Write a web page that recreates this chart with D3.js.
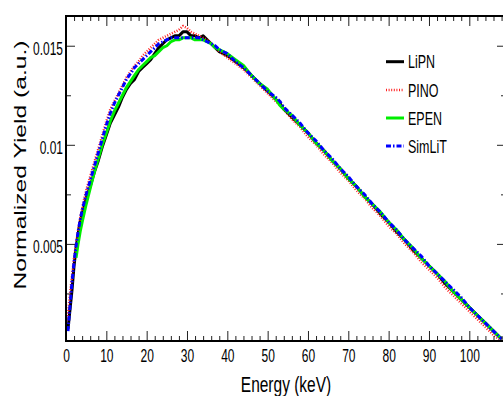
<!DOCTYPE html>
<html>
<head>
<meta charset="utf-8">
<script src="https://cdn.jsdelivr.net/npm/d3@7"></script>
<style>
  html, body { margin: 0; padding: 0; background: #fff; }
  svg { display: block; }
  text { font-family: "Liberation Sans", Arial, Helvetica, sans-serif; fill: #000; }
</style>
</head>
<body>
<svg id="chart" width="503" height="396"></svg>
<script>
// ---- data ----
const energy = [0.2,0.5,1,1.5,2,2.5,3,3.5,4,5,6,7,8,9,10,11,12,13,14,15,16,17,18,19,20,21,22,23,24,25,26,27,28,29,30,31,32,33,34,35,36,37,38,40,42,44,46,48,50,52,53,54,56,58,60,62,64,66,68,70,72,74,76,78,80,82,84,86,88,90,92,94,96,98,100,102,104,106,108];

const lipn = [null,0.00072,0.0017,0.0027,0.0039,0.0048,0.0055,0.0061,0.0065,0.0073,0.0079,0.0086,0.0092,0.0099,0.0105,0.0111,0.0115,0.0119,0.0124,0.0128,0.0131,0.0133,0.0137,0.0139,0.0141,0.0143,0.0146,0.0149,0.0151,0.0153,0.0154,0.0155,0.0155,0.0157,0.0157,0.0155,0.0155,0.0154,0.0155,0.0153,0.0151,0.0149,0.0147,0.0145,0.0142,0.0139,0.0135,0.0131,0.0127,0.0123,0.0121,0.0118,0.0114,0.0110,0.0106,0.0101,0.0097,0.0092,0.0088,0.0083,0.0079,0.0074,0.0070,0.0065,0.0061,0.0056,0.0052,0.0047,0.0043,0.0039,0.0035,0.0030,0.0026,0.0022,0.0018,0.0014,0.0010,0.0006,0.0002];

const pino = [0.0011,0.0015,0.0025,0.0034,0.0043,0.0050,0.0057,0.0063,0.0068,0.0077,0.0084,0.0091,0.0098,0.0105,0.0112,0.0118,0.0122,0.0126,0.0130,0.0134,0.0137,0.0140,0.0142,0.0145,0.0147,0.0149,0.0151,0.0153,0.0154,0.0155,0.0156,0.0157,0.0158,0.0160,0.0159,0.0157,0.0156,0.0155,0.0154,0.0153,0.0151,0.0149,0.0147,0.0144,0.0141,0.0138,0.0134,0.0130,0.0126,0.0122,0.0120,0.0118,0.0113,0.0109,0.0104,0.0100,0.0095,0.0091,0.0086,0.0082,0.0077,0.0073,0.0068,0.0064,0.0059,0.0055,0.0050,0.0046,0.0041,0.0037,0.0033,0.0028,0.0024,0.0020,0.0016,0.0012,0.0008,0.0004,0.0001];

const epen = [null,null,null,null,null,0.0043,0.0050,0.0056,0.0061,0.0070,0.0078,0.0086,0.0093,0.0100,0.0106,0.0112,0.0117,0.0121,0.0125,0.0129,0.0132,0.0135,0.0138,0.0140,0.0142,0.0144,0.0145,0.0147,0.0149,0.0150,0.0152,0.0153,0.0153,0.0154,0.0154,0.0154,0.0153,0.0153,0.0153,0.0152,0.0151,0.0149,0.0148,0.0146,0.0143,0.0140,0.0135,0.0131,0.0128,0.0123,0.0120,0.0118,0.0115,0.0110,0.0106,0.0101,0.0097,0.0092,0.0088,0.0083,0.0079,0.0074,0.0070,0.0066,0.0061,0.0057,0.0052,0.0048,0.0043,0.0039,0.0035,0.0031,0.0026,0.0022,0.0018,0.0014,0.0010,0.0006,0.0002];

const simlit = [null,0.0006,0.0019,0.0031,0.0041,0.0049,0.0056,0.0062,0.0067,0.0075,0.0082,0.0089,0.0096,0.0103,0.0110,0.0116,0.0121,0.0125,0.0129,0.0133,0.0136,0.0139,0.0141,0.0143,0.0145,0.0147,0.0149,0.0151,0.0152,0.0153,0.0154,0.0154,0.0154,0.0154,0.0154,0.0154,0.0154,0.0154,0.0153,0.0152,0.0151,0.0150,0.0148,0.0146,0.0142,0.0139,0.0135,0.0131,0.0127,0.0124,0.0122,0.0119,0.0115,0.0111,0.0106,0.0102,0.0097,0.0093,0.0088,0.0084,0.0079,0.0075,0.0070,0.0066,0.0061,0.0057,0.0052,0.0048,0.0044,0.0039,0.0035,0.0031,0.0027,0.0023,0.0018,0.0014,0.0010,0.0006,0.0002];

const seriesNames = ["LiPN", "PINO", "EPEN", "SimLiT"];
const seriesValues = [lipn, pino, epen, simlit];

const xMajorTicks = [0,10,20,30,40,50,60,70,80,90,100];
const xTickLabels = ["0","10","20","30","40","50","60","70","80","90","100"];
const yMajorTicks = [0.005, 0.01, 0.015];
const yTickLabels = ["0.005", "0.01", "0.015"];
const yMinorTicks = [0.0025, 0.0075, 0.0125];
const xTitle = "Energy (keV)";
const yTitle = "Normalized Yield (a.u.)";

// ---- styles ----
const styles = {
  LiPN:   { color: "#000000", width: 3,   dash: null },
  PINO:   { color: "#ff2020", width: 2.5, dash: "1,1.6" },
  EPEN:   { color: "#00ee00", width: 3,   dash: null },
  SimLiT: { color: "#0000ff", width: 3,   dash: "5,2,1.5,2" }
};

const L = 66, R = 506, T = 16, B = 341;
const svg = d3.select("#chart");
const x = d3.scaleLinear().domain([0, 109.1]).range([L, R]);
const y = d3.scaleLinear().domain([0.0001, 0.0165]).range([B, T]);

const xMinor = d3.range(0, 109, 2).filter(v => v % 10 !== 0);

// clip
svg.append("defs").append("clipPath").attr("id", "clip")
  .append("rect").attr("x", L).attr("y", T).attr("width", R - L).attr("height", B - T);

// curves
const lineGen = d3.line()
  .defined(d => d[1] != null)
  .x(d => x(d[0]))
  .y(d => y(d[1]));

const gLines = svg.append("g").attr("clip-path", "url(#clip)");
seriesNames.forEach((name, i) => {
  const st = styles[name];
  const pts = energy.map((e, j) => [e, seriesValues[i][j]]);
  gLines.append("path")
    .datum(pts)
    .attr("d", lineGen)
    .attr("fill", "none")
    .attr("stroke", st.color)
    .attr("stroke-width", st.width)
    .attr("stroke-linejoin", "round")
    .attr("stroke-dasharray", st.dash);
});

function styleAxis(g) {
  g.select(".domain").remove();
  g.selectAll(".tick line").attr("stroke", "#222").attr("stroke-width", 1);
}

// bottom axis (major with labels)
const gB = svg.append("g").attr("transform", `translate(0,${B})`)
  .call(d3.axisBottom(x).tickValues(xMajorTicks).tickSizeInner(-10).tickSizeOuter(0)
    .tickFormat((d, i) => xTickLabels[i]));
styleAxis(gB);
gB.selectAll(".tick text")
  .attr("dy", null).attr("y", 21 / 1.6)
  .attr("transform", "scale(1,1.6)")
  .style("font-size", "12px");
svg.append("g").attr("transform", `translate(0,${B})`)
  .call(d3.axisBottom(x).tickValues(xMinor).tickSizeInner(-5).tickSizeOuter(0).tickFormat(""))
  .call(styleAxis);

// top axis
svg.append("g").attr("transform", `translate(0,${T})`)
  .call(d3.axisTop(x).tickValues(xMajorTicks).tickSizeInner(-10).tickSizeOuter(0).tickFormat(""))
  .call(styleAxis);
svg.append("g").attr("transform", `translate(0,${T})`)
  .call(d3.axisTop(x).tickValues(xMinor).tickSizeInner(-5).tickSizeOuter(0).tickFormat(""))
  .call(styleAxis);

// left axis
const gLft = svg.append("g").attr("transform", `translate(${L},0)`)
  .call(d3.axisLeft(y).tickValues(yMajorTicks).tickSizeInner(-9).tickSizeOuter(0)
    .tickFormat((d, i) => yTickLabels[i]));
styleAxis(gLft);
gLft.selectAll(".tick text")
  .attr("dy", null).attr("x", -3).attr("y", 8.5 / 1.6)
  .attr("text-anchor", "end")
  .attr("transform", "scale(1,1.6)")
  .style("font-size", "12px");
svg.append("g").attr("transform", `translate(${L},0)`)
  .call(d3.axisLeft(y).tickValues(yMinorTicks).tickSizeInner(-5).tickSizeOuter(0).tickFormat(""))
  .call(styleAxis);

// right axis
svg.append("g").attr("transform", `translate(${R},0)`)
  .call(d3.axisRight(y).tickValues(yMajorTicks).tickSizeInner(-9).tickSizeOuter(0).tickFormat(""))
  .call(styleAxis);
svg.append("g").attr("transform", `translate(${R},0)`)
  .call(d3.axisRight(y).tickValues(yMinorTicks).tickSizeInner(-5).tickSizeOuter(0).tickFormat(""))
  .call(styleAxis);

// frame
svg.append("rect").attr("x", L).attr("y", T).attr("width", R - L).attr("height", B - T)
  .attr("fill", "none").attr("stroke", "#000").attr("stroke-width", 2);

// axis titles
svg.append("text")
  .attr("transform", `translate(286,392) scale(1,1.43)`)
  .attr("text-anchor", "middle")
  .style("font-size", "15.5px")
  .text(xTitle);

svg.append("text")
  .attr("transform", `translate(25.5,165) rotate(-90) scale(1.45,1)`)
  .attr("text-anchor", "middle")
  .style("font-size", "17px")
  .text(yTitle);

// legend
const legY = [61.7, 90, 118, 146];
const gLeg = svg.append("g");
seriesNames.forEach((name, i) => {
  const st = styles[name];
  gLeg.append("line")
    .attr("x1", 386).attr("x2", 404)
    .attr("y1", legY[i]).attr("y2", legY[i])
    .attr("stroke", st.color)
    .attr("stroke-width", st.width)
    .attr("stroke-dasharray", st.dash);
  gLeg.append("text")
    .attr("transform", `translate(408,${legY[i] + 6.6}) scale(1,1.45)`)
    .style("font-size", "12.5px")
    .text(name);
});
</script>
</body>
</html>
